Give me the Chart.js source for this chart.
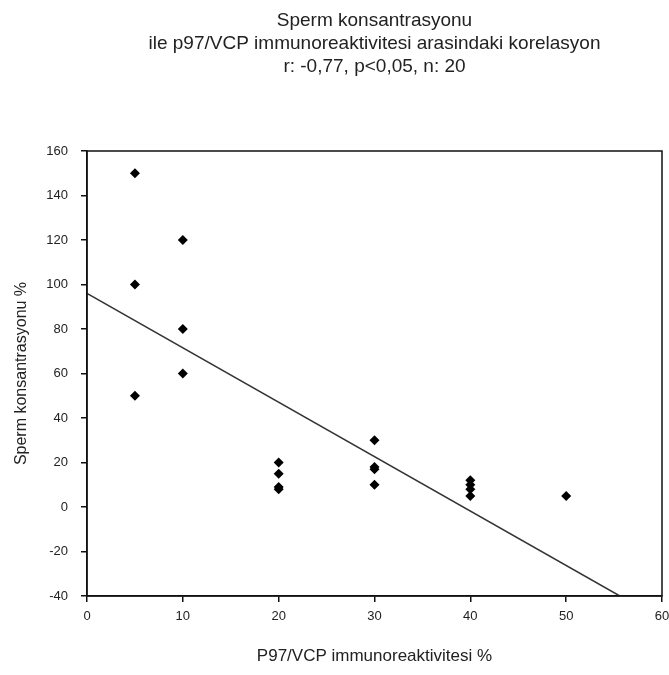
<!DOCTYPE html>
<html>
<head>
<meta charset="utf-8">
<script src="https://cdn.jsdelivr.net/npm/chart.js@4/dist/chart.umd.min.js"></script>
<style>
  body { margin: 0; background: #fff; }
  #chart { display: block; }
</style>
</head>
<body>
<canvas id="chart" width="669" height="675"></canvas>
<script>
// veriler
const p97Values = [5, 5, 5, 10, 10, 10, 20, 20, 20, 20, 30, 30, 30, 30, 40, 40, 40, 40, 50];
const spermValues = [150, 100, 50, 120, 80, 60, 20, 15, 9, 8, 30, 18, 17, 10, 12, 10, 8, 5, 5];
// regresyon dogrusu
const fitX = [0, 55.6];
const fitY = [96, -40];
const xTicks = [0, 10, 20, 30, 40, 50, 60];
const yTicks = [-40, -20, 0, 20, 40, 60, 80, 100, 120, 140, 160];
const titleLines = [
    'Sperm konsantrasyonu',
    'ile p97/VCP immunoreaktivitesi arasindaki korelasyon',
    'r: -0,77, p<0,05, n: 20'
];

const points = p97Values.map((x, i) => ({ x: x, y: spermValues[i] }));
const fitPoints = fitX.map((x, i) => ({ x: x, y: fitY[i] }));

// cerceve (ust ve sag kenar)
const frame = {
    id: 'frame',
    afterDraw(chart) {
        const a = chart.chartArea;
        const c = chart.ctx;
        c.save();
        c.strokeStyle = '#111';
        c.lineWidth = 1.5;
        c.strokeRect(a.left, a.top, a.right - a.left, a.bottom - a.top);
        c.restore();
    }
};

const txt = '#222';
const ctx = document.getElementById('chart').getContext('2d');
const grafica = new Chart(ctx, {
    type: 'scatter',
    data: {
        datasets: [{
            type: 'line',
            data: fitPoints,
            borderColor: '#333',
            borderWidth: 1.5,
            pointRadius: 0,
            fill: false
        }, {
            data: points,
            pointStyle: 'rectRot',
            pointRadius: 5,
            backgroundColor: '#000',
            borderColor: '#000',
            borderWidth: 0
        }]
    },
    options: {
        responsive: false,
        animation: false,
        layout: { padding: { top: 0, right: 7, bottom: 0, left: 0 } },
        plugins: {
            legend: { display: false },
            tooltip: { enabled: false },
            title: {
                display: true,
                fullSize: false,
                text: titleLines,
                color: txt,
                font: { family: 'Liberation Sans', size: 19, weight: 'normal', lineHeight: '23px' },
                padding: { top: 9, bottom: 73 }
            }
        },
        scales: {
            x: {
                type: 'linear',
                min: 0,
                max: 60,
                afterBuildTicks(scale) { scale.ticks = xTicks.map(v => ({ value: v })); },
                afterFit(scale) { scale.height = 79; scale.paddingRight = 0; },
                grid: { display: true, drawOnChartArea: false, drawTicks: true, tickLength: 6, color: '#111', lineWidth: 1.5 },
                border: { display: true, color: '#111', width: 1.5 },
                ticks: { color: txt, padding: 7, maxRotation: 0, font: { family: 'Liberation Sans', size: 13 } },
                title: {
                    display: true,
                    text: 'P97/VCP immunoreaktivitesi %',
                    color: txt,
                    font: { family: 'Liberation Sans', size: 17 },
                    padding: { top: 0, bottom: 8 }
                }
            },
            y: {
                type: 'linear',
                min: -40,
                max: 160,
                afterBuildTicks(scale) { scale.ticks = yTicks.map(v => ({ value: v })); },
                afterFit(scale) { scale.width = 87; },
                grid: { display: true, drawOnChartArea: false, drawTicks: true, tickLength: 6, color: '#111', lineWidth: 1.5 },
                border: { display: true, color: '#111', width: 1.5 },
                ticks: { color: txt, padding: 13, font: { family: 'Liberation Sans', size: 13 } },
                title: {
                    display: true,
                    text: 'Sperm konsantrasyonu %',
                    color: txt,
                    font: { family: 'Liberation Sans', size: 16 },
                    padding: { top: 12, bottom: 0 }
                }
            }
        }
    },
    plugins: [frame]
});
</script>
</body>
</html>
